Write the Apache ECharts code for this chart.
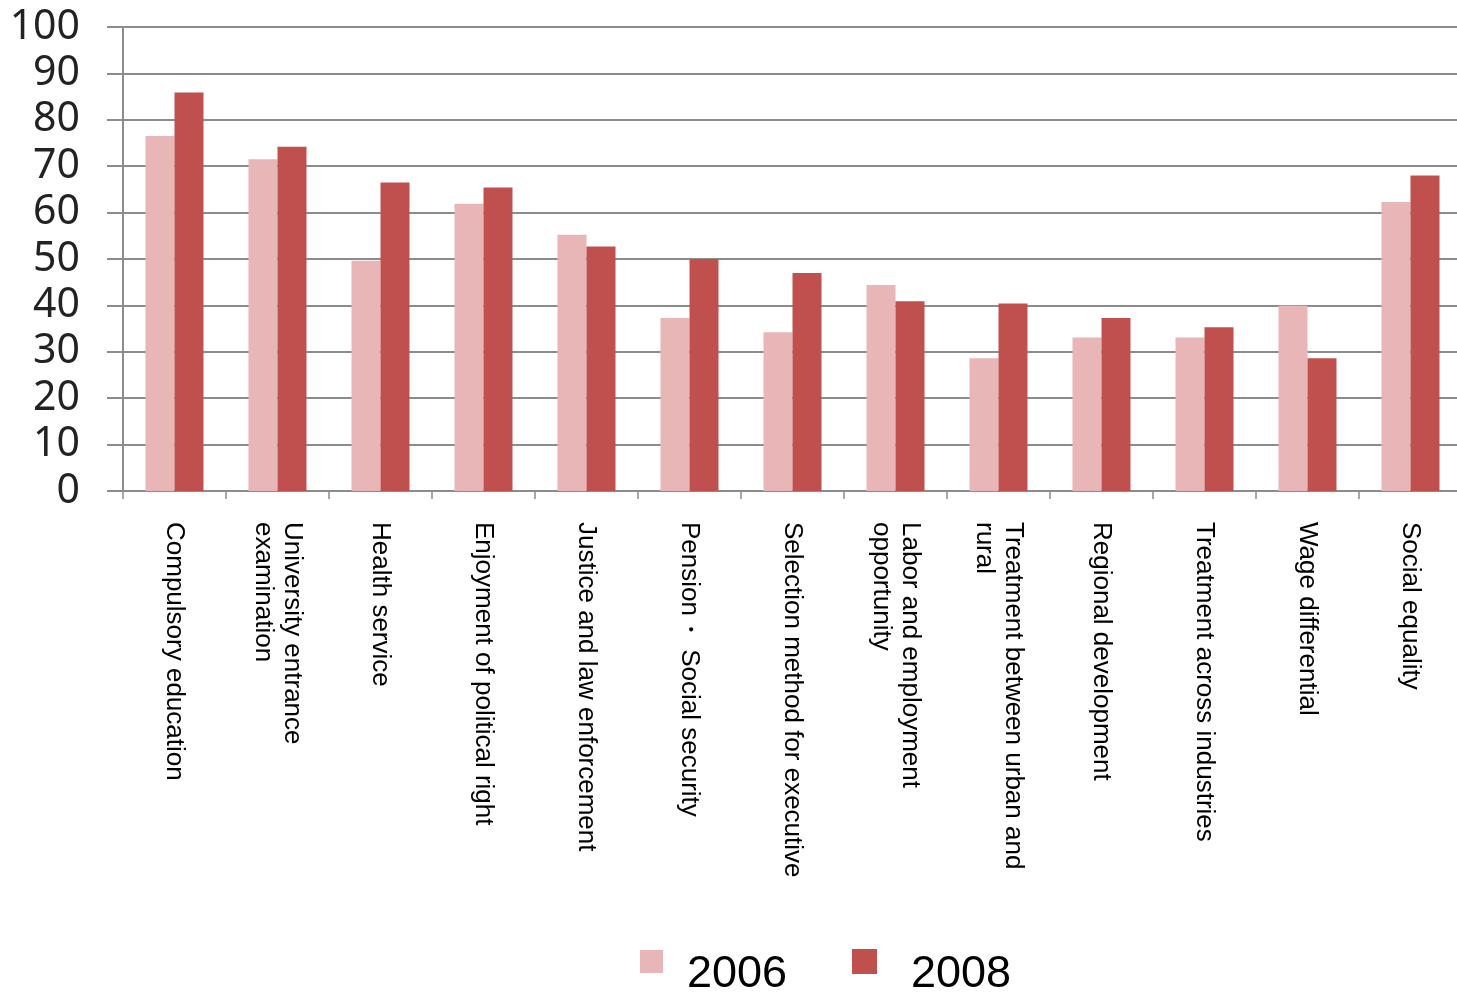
<!DOCTYPE html>
<html>
<head>
<meta charset="utf-8">
<script src="https://cdn.jsdelivr.net/npm/echarts@6/dist/echarts.min.js"></script>
<style>html,body{margin:0;padding:0;background:#fff;overflow:hidden;}#c{width:1466px;height:996px;}</style>
</head>
<body>
<div id="c"></div>
<script>
const categories = [
  "Compulsory education",
  "University entrance\nexamination",
  "Health service",
  "Enjoyment of political right",
  "Justice and law enforcement",
  "Pension・ Social security",
  "Selection method for executive",
  "Labor and employment\nopportunity",
  "Treatment between urban and\nrural",
  "Regional development",
  "Treatment across industries",
  "Wage differential",
  "Social equality"
];
const values2006 = [76.5, 71.5, 49.6, 61.9, 55.2, 37.3, 34.2, 44.4, 28.6, 33.1, 33.1, 39.9, 62.3];
const values2008 = [85.9, 74.2, 66.5, 65.4, 52.7, 50.0, 47.0, 40.9, 40.4, 37.3, 35.3, 28.6, 68.0];
const seriesNames = ["2006", "2008"];

function legendText(padLeft) {
  return {
    padding: [0, 0, 0, padLeft],
    rich: {t: {fontFamily: 'Liberation Sans, Arial', fontSize: 45, color: '#000', lineHeight: 71, verticalAlign: 'bottom'}}
  };
}

const chart = echarts.init(document.getElementById('c'), null, {renderer: 'canvas'});
chart.setOption({
  backgroundColor: '#ffffff',
  animation: false,
  grid: {left: 123, width: 1339, top: 27, bottom: 505, containLabel: false},
  legend: [
    {data: [seriesNames[0]], left: 640, top: 950, padding: 0, icon: 'rect', itemWidth: 23, itemHeight: 23,
     formatter: '{t|{name}}', textStyle: legendText(19)},
    {data: [seriesNames[1]], left: 852, top: 949, padding: 0, icon: 'rect', itemWidth: 25, itemHeight: 25,
     formatter: '{t|{name}}', textStyle: legendText(29)}
  ],
  xAxis: {
    type: 'category',
    data: categories,
    axisLine: {show: true, lineStyle: {color: '#8c8c8c', width: 2}},
    axisTick: {show: true, length: 8, lineStyle: {color: '#8c8c8c', width: 1.5}},
    axisLabel: {
      interval: 0, rotate: -90, margin: 31,
      fontFamily: 'Liberation Sans, Arial', fontSize: 26, lineHeight: 29, color: '#000'
    }
  },
  yAxis: {
    type: 'value', min: 0, max: 100, interval: 10,
    axisLine: {show: true, lineStyle: {color: '#8c8c8c', width: 2}},
    axisTick: {show: true, length: 16, lineStyle: {color: '#8c8c8c', width: 2}},
    splitLine: {show: true, lineStyle: {color: '#8c8c8c', width: 2}},
    axisLabel: {margin: 43, fontFamily: 'Noto Sans', fontSize: 41, color: '#222'}
  },
  series: [
    {name: seriesNames[0], type: 'bar', data: values2006, barWidth: 29, barGap: '0%',
     itemStyle: {color: '#e8b6b6'}},
    {name: seriesNames[1], type: 'bar', data: values2008, barWidth: 29, barGap: '0%',
     itemStyle: {color: '#c0504d'}}
  ]
});
</script>
</body>
</html>
